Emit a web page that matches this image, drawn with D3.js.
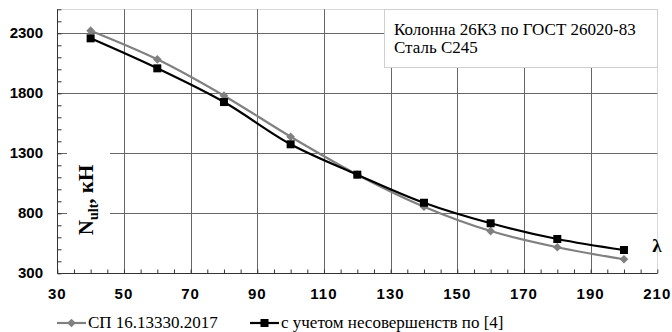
<!DOCTYPE html>
<html>
<head>
<meta charset="utf-8">
<script src="https://cdn.jsdelivr.net/npm/d3@7"></script>
<style>
  body { margin: 0; background: #fff; }
  svg { display: block; }
  .serif { font-family: "Liberation Serif", "Times New Roman", serif; }
  .sans { font-family: "Liberation Sans", Arial, sans-serif; }
</style>
</head>
<body>
<div class="chart"></div>
<script>
// data
var lambdas = [40, 60, 80, 100, 120, 140, 160, 180, 200];
var spValues = [2322, 2083, 1780, 1438, 1122, 855, 652, 517, 417];
var imperfValues = [2258, 2008, 1727, 1375, 1122, 888, 717, 586, 494];
var xTicks = [30, 50, 70, 90, 110, 130, 150, 170, 190, 210];
var yTicks = [300, 800, 1300, 1800, 2300];
var seriesNames = ['СП 16.13330.2017', 'с учетом несовершенств по [4]'];
var noteLines = ['Колонна 26К3 по ГОСТ 26020-83', 'Сталь С245'];

var width = 672, height = 332;
var plotL = 57.3, plotR = 657.3, plotT = 9.3, plotB = 273.3;

var svg = d3.select(".chart").append("svg")
    .attr("width", width)
    .attr("height", height);

var x = d3.scaleLinear().domain([30, 210]).range([plotL, plotR]);
var y = d3.scaleLinear().domain([300, 2500]).range([plotB, plotT]);

// plot border
svg.append("rect")
    .attr("x", Math.round(plotL) + 0.5).attr("y", Math.round(plotT) + 0.5)
    .attr("width", Math.round(plotR - plotL)).attr("height", Math.round(plotB - plotT))
    .attr("fill", "none").attr("stroke", "#d9d9d9");

// grid
svg.selectAll(".vgrid").data(xTicks.slice(1, -1)).enter()
    .append("line")
    .attr("x1", function (d) { return Math.round(x(d)) + 0.5; })
    .attr("x2", function (d) { return Math.round(x(d)) + 0.5; })
    .attr("y1", plotT).attr("y2", plotB)
    .attr("stroke", "#666");

svg.selectAll(".hgrid").data(yTicks.slice(1)).enter()
    .append("line")
    .attr("x1", plotL).attr("x2", plotR)
    .attr("y1", function (d) { return Math.round(y(d)) + 0.5; })
    .attr("y2", function (d) { return Math.round(y(d)) + 0.5; })
    .attr("stroke", "#666");

// axes
var xAxis = d3.axisBottom(x).tickValues(d3.range(30, 211, 5)).tickSize(-4).tickFormat("");
var yAxis = d3.axisLeft(y).tickValues(d3.range(300, 2501, 100)).tickSize(-4).tickFormat("");

svg.append("g")
    .attr("transform", "translate(0," + (Math.round(plotB) + 0.5) + ")")
    .call(xAxis)
    .call(function (g) {
        g.select(".domain").attr("stroke", "#333").attr("d", "M" + plotL + ",0H" + plotR);
        g.selectAll(".tick line").attr("stroke", "#333");
    });

svg.append("g")
    .attr("transform", "translate(" + (Math.round(plotL) + 0.5) + ",0)")
    .call(yAxis)
    .call(function (g) {
        g.select(".domain").attr("stroke", "#333").attr("d", "M0," + plotT + "V" + plotB);
        g.selectAll(".tick line").attr("stroke", "#333");
    });

// tick labels
svg.selectAll(".xlab").data(xTicks).enter()
    .append("text")
    .attr("class", "sans")
    .attr("x", function (d) { return x(d); })
    .attr("y", 299)
    .attr("text-anchor", "middle")
    .attr("font-size", 15)
    .attr("font-weight", "bold")
    .attr("letter-spacing", 1)
    .text(function (d) { return d; });

svg.selectAll(".ylab").data(yTicks).enter()
    .append("text")
    .attr("class", "sans")
    .attr("x", 43)
    .attr("y", function (d) { return y(d) + 5; })
    .attr("text-anchor", "end")
    .attr("font-size", 15)
    .attr("font-weight", "bold")
    .text(function (d) { return d; });

// y axis title with white background
svg.append("rect")
    .attr("x", 67).attr("y", 148).attr("width", 43).attr("height", 100)
    .attr("fill", "#fff");

var yt = svg.append("text")
    .attr("class", "serif")
    .attr("transform", "translate(93,200) rotate(-90)")
    .attr("text-anchor", "middle")
    .attr("font-size", 21)
    .attr("font-weight", "bold");
yt.append("tspan").text("N");
yt.append("tspan").attr("dy", 5).attr("font-size", 14).text("ult");
yt.append("tspan").attr("dy", -5).text(", кН");

// note box
svg.append("rect")
    .attr("x", 384.5).attr("y", 9.5).attr("width", 273).attr("height", 58)
    .attr("fill", "#fff").attr("stroke", "#d0d0d0");

svg.selectAll(".note").data(noteLines).enter()
    .append("text")
    .attr("class", "serif")
    .attr("x", 394)
    .attr("y", function (d, i) { return 35 + i * 18; })
    .attr("font-size", 17)
    .text(function (d) { return d; });

// lambda label
svg.append("text")
    .attr("class", "serif")
    .attr("x", 657).attr("y", 252)
    .attr("text-anchor", "middle")
    .attr("font-size", 19)
    .attr("font-weight", "bold")
    .text("λ");

// series
var line = d3.line()
    .x(function (d) { return x(d[0]); })
    .y(function (d) { return y(d[1]); })
    .curve(d3.curveCatmullRom.alpha(0.5));

var spData = d3.zip(lambdas, spValues);
var imData = d3.zip(lambdas, imperfValues);

var diamond = d3.symbol().type(d3.symbolDiamond2).size(48);

svg.append("path")
    .datum(spData)
    .attr("d", line)
    .attr("fill", "none")
    .attr("stroke", "#808080")
    .attr("stroke-width", 2.2);

svg.selectAll(".dia").data(spData).enter()
    .append("path")
    .attr("d", diamond)
    .attr("transform", function (d) { return "translate(" + x(d[0]) + "," + y(d[1]) + ")"; })
    .attr("fill", "#808080");

svg.append("path")
    .datum(imData)
    .attr("d", line)
    .attr("fill", "none")
    .attr("stroke", "#000")
    .attr("stroke-width", 2.2);

svg.selectAll(".sq").data(imData).enter()
    .append("rect")
    .attr("x", function (d) { return x(d[0]) - 4; })
    .attr("y", function (d) { return y(d[1]) - 4; })
    .attr("width", 8).attr("height", 8)
    .attr("fill", "#000");

// legend
var legendX = [57, 250];
var legendColors = ['#808080', '#000'];
var lg = svg.selectAll(".legend").data(seriesNames).enter()
    .append("g")
    .attr("transform", function (d, i) { return "translate(" + legendX[i] + ",323)"; });

lg.append("line")
    .attr("x1", 0).attr("x2", 29).attr("y1", 0).attr("y2", 0)
    .attr("stroke", function (d, i) { return legendColors[i]; })
    .attr("stroke-width", 2.2);

lg.each(function (d, i) {
    var g = d3.select(this);
    if (i === 0) {
        g.append("path").attr("d", diamond).attr("transform", "translate(14.5,0)").attr("fill", legendColors[i]);
    } else {
        g.append("rect").attr("x", 10.5).attr("y", -4).attr("width", 8).attr("height", 8).attr("fill", "#000");
    }
});

lg.append("text")
    .attr("class", "serif")
    .attr("x", 31)
    .attr("y", 5)
    .attr("font-size", 17)
    .text(function (d) { return d; });
</script>
</body>
</html>
